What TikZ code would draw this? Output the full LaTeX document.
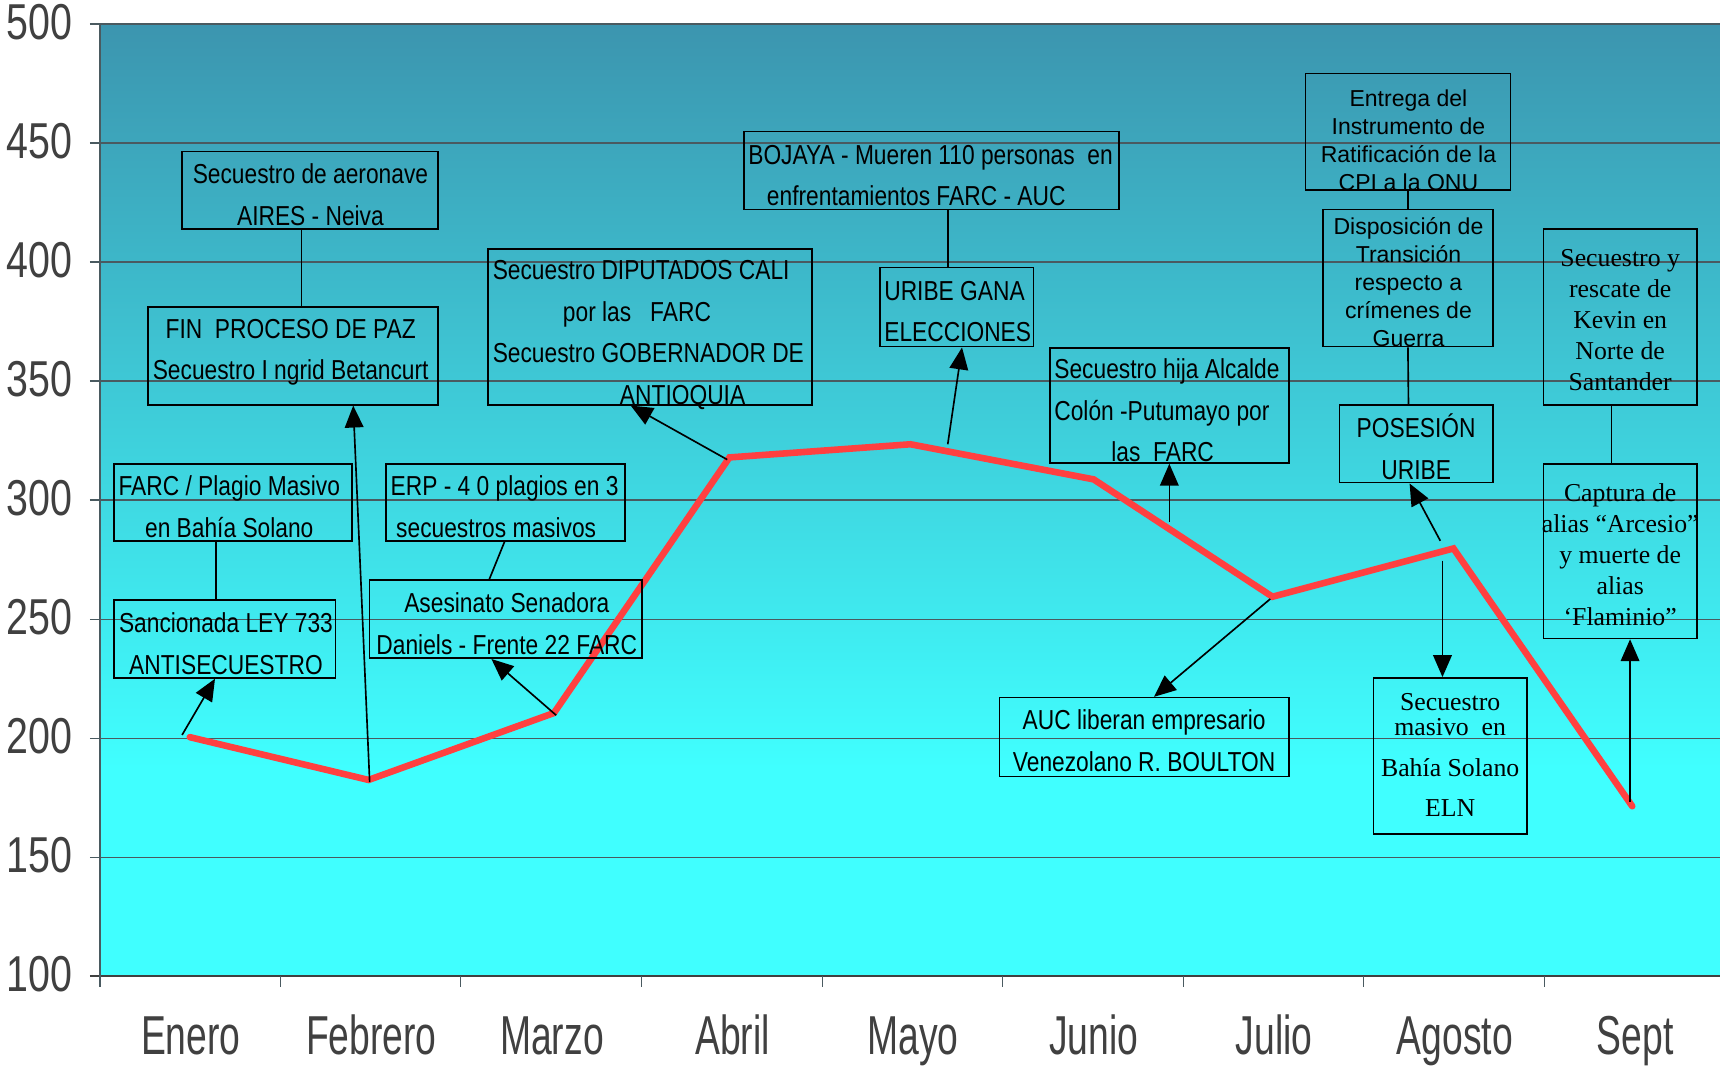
\documentclass[tikz,border=0pt]{standalone}
\usepackage{fontspec}
\setmainfont{Liberation Sans}
\newfontfamily\condf[FakeStretch=0.83]{Liberation Sans}
\newfontfamily\axisf[FakeStretch=0.78]{Liberation Sans}
\newfontfamily\monthf[FakeStretch=0.68]{Liberation Sans}
\newfontfamily\serf{Liberation Serif}
\usetikzlibrary{arrows.meta}
\definecolor{topc}{HTML}{3C95AF}
\definecolor{botc}{HTML}{40FFFF}
\definecolor{redl}{HTML}{FF4040}
\definecolor{axc}{HTML}{404040}
\definecolor{gridc}{HTML}{4A5A60}
\begin{document}
\begin{tikzpicture}[x=1pt,y=-1pt,
  box/.style={draw=black, line width=1.5pt, inner sep=0pt, fill=none},
  conn/.style={draw=black, line width=1.5pt},
  arr/.style={draw=black, line width=1.5pt, -{Triangle[length=20pt,width=17pt]}},
  tcc/.style={font=\condf\fontsize{25}{38}\selectfont, align=center, inner sep=0pt, text=black},
  tcl/.style={font=\condf\fontsize{25}{38}\selectfont, align=left, inner sep=0pt, anchor=west, text=black},
  tnorm/.style={font=\fontsize{21}{25.4}\selectfont, align=center, inner sep=0pt, text=black},
  tser/.style={font=\serf\fontsize{23.5}{23}\selectfont, align=center, inner sep=0pt, text=black},
  tser2/.style={font=\serf\fontsize{23.5}{28.3}\selectfont, align=center, inner sep=0pt, text=black},
  ylab/.style={font=\axisf\fontsize{46}{46}\selectfont, text=axc, anchor=east, inner sep=0pt},
  xlab/.style={font=\monthf\fontsize{50}{50}\selectfont, text=axc, inner sep=0pt, anchor=base},
  gridl/.style={draw=gridc, line width=1.3pt},
  redline/.style={draw=redl, line width=6pt, line join=miter, line cap=round}]
\useasboundingbox (0,0) rectangle (1568,974);
\fill[white] (0,0) rectangle (1568,974);
% plot area background
\shade[top color=topc, bottom color=botc] (91,22) rectangle (1568,700);
\fill[botc] (91,699.5) rectangle (1568,890);
% grid lines and left ticks
\foreach \v/\yy in {500/22,450/130.5,400/239,350/347.5,300/456,250/564.5,200/673,150/781.5}{
  \draw[gridl] (82,\yy) -- (1568,\yy);
  \node[ylab] at (66,\yy-2) {\v};
}
\draw[draw=axc, line width=2pt] (82,890) -- (1568,890);
\node[ylab] at (66,888) {100};
% y axis
\draw[draw=gridc, line width=1.3pt] (91,22) -- (91,900);
% bottom ticks
\foreach \i in {1,...,8}{
  \draw[draw=gridc, line width=1pt] (91+164.6*\i,890) -- (91+164.6*\i,900);
}
% month labels
\foreach \m [count=\i from 0] in {Enero,Febrero,Marzo,Abril,Mayo,Junio,Julio,Agosto,Sept}{
  \node[xlab] at (174+164.6*\i,961) {\m};
}
% data line
\coordinate (p1) at (173,672);
\coordinate (p2) at (336,711);
\coordinate (p3) at (505,650);
\coordinate (p4) at (665,417);
\coordinate (p5) at (830,405);
\coordinate (p6) at (997,437);
\coordinate (p7) at (1160,544);
\coordinate (p8) at (1325,500);
\coordinate (p9) at (1488,735);
\draw[redline] (p1) -- (p2) -- (p3) -- (p4) -- (p5) -- (p6) -- (p7) -- (p8) -- (p9);
% boxes
\node[box, minimum width=233pt, minimum height=71pt] (b1) at (282.5,173.5) {};
\node[box, minimum width=264pt, minimum height=89pt] (b2) at (267,324.5) {};
\node[box, minimum width=217pt, minimum height=70pt] (b3) at (212.5,458) {};
\node[box, minimum width=202pt, minimum height=71pt] (b4) at (205,582.5) {};
\node[box, minimum width=218pt, minimum height=70pt] (b5) at (461,458) {};
\node[box, minimum width=248pt, minimum height=71pt] (b6) at (461,564.5) {};
\node[box, minimum width=295pt, minimum height=142pt] (b7) at (592.5,298) {};
\node[box, minimum width=342pt, minimum height=71pt] (b8) at (849,155.5) {};
\node[box, minimum width=140pt, minimum height=72pt] (b9) at (872,280) {};
\node[box, minimum width=218pt, minimum height=105pt] (b10) at (1066,369.5) {};
\node[box, minimum width=264pt, minimum height=72pt] (b11) at (1043,672) {};
\node[box, minimum width=187pt, minimum height=106pt] (b12) at (1283.5,120) {};
\node[box, minimum width=155pt, minimum height=125pt] (b13) at (1283.5,253.5) {};
\node[box, minimum width=140pt, minimum height=71pt] (b14) at (1291,404.5) {};
\node[box, minimum width=140pt, minimum height=142pt] (b15) at (1322,689) {};
\node[box, minimum width=140pt, minimum height=160pt] (b16) at (1477,289) {};
\node[box, minimum width=140pt, minimum height=159pt] (b17) at (1477,502.5) {};
% texts
\node[tcc] at (283,177.5) {Secuestro de aeronave\\AIRES - Neiva};
\node[tcc] at (265,321) {FIN\ \ PROCESO DE PAZ\\Secuestro I ngrid Betancurt};
\node[tcc] at (209,462) {FARC / Plagio Masivo\\en Bahía Solano};
\node[tcc] at (206,586.5) {Sancionada LEY 733\\ANTISECUESTRO};
\node[tcl] at (356,462) {ERP - 4 0 plagios en 3\\\hspace*{5pt}secuestros masivos};
\node[tcc] at (462,568.5) {Asesinato Senadora\\Daniels - Frente 22 FARC};
\node[tcl] at (449,305.5) {Secuestro DIPUTADOS CALI\\\hspace*{64pt}por las\ \ \ FARC\\Secuestro GOBERNADOR DE\\\hspace*{116pt}ANTIOQUIA};
\node[tcl] at (682,160) {BOJAYA - Mueren 110 personas\ \ en\\\hspace*{17pt}enfrentamientos FARC - AUC};
\node[tcl] at (806,284) {URIBE GANA\\ELECCIONES};
\node[tcl] at (961,374) {Secuestro hija Alcalde\\Colón -Putumayo por\\\hspace*{52pt}las\ \ FARC};
\node[tcc] at (1043,675.5) {AUC liberan empresario\\Venezolano R. BOULTON};
\node[tnorm] at (1284,128) {Entrega del\\Instrumento de\\Ratificación de la\\CPI a la ONU};
\node[tnorm] at (1284,257) {Disposición de\\Transición\\respecto a\\crímenes de\\Guerra};
\node[tcc] at (1291,407) {POSESIÓN\\URIBE};
\node[tser] at (1322,688.5) {Secuestro\\masivo\ \ en\\[14pt]Bahía Solano\\[14pt]ELN};
\node[tser2] at (1477,292) {Secuestro y\\rescate de\\Kevin en\\Norte de\\Santander};
\node[tser2] at (1477,505.5) {Captura de\\alias “Arcesio”\\y muerte de\\alias\\‘Flaminio”};
% connectors between boxes
\draw[conn] ([xshift=-7.5pt]b1.south) -- ([xshift=8pt]b2.north);
\draw[conn] ([xshift=-15.5pt]b3.south) -- ([xshift=-8pt]b4.north);
\draw[conn] ([xshift=-1pt]b5.south) -- ([xshift=-15pt]b6.north);
\draw[conn] ([xshift=15pt]b8.south) -- ([xshift=-8pt]b9.north);
\draw[conn] (b12.south) -- (b13.north);
\draw[conn] (b13.south) -- ([xshift=-7pt]b14.north);
\draw[conn] ([xshift=-8pt]b16.south) -- ([xshift=-8pt]b17.north);
% arrows from the data line
\coordinate (t1) at (166,670);
\coordinate (t2) at (337,713);
\coordinate (t3) at (507,652);
\coordinate (t4) at (663,419);
\coordinate (t5) at (864,405);
\coordinate (t6) at (1066,476);
\coordinate (t7) at (1158,546);
\coordinate (t8) at (1313,493);
\coordinate (t9) at (1315,511);
\coordinate (t10) at (1486,731);
\draw[arr] (t1) -- ([xshift=-9pt]b4.south);
\draw[arr] (t2) -- ([xshift=55pt]b2.south);
\draw[arr] (t3) -- ([xshift=-13pt]b6.south);
\draw[arr] (t4) -- ([xshift=-17.5pt]b7.south);
\draw[arr] (t5) -- ([xshift=5pt]b9.south);
\draw[arr] (t6) -- (b10.south);
\draw[arr] (t7) -- ([xshift=9pt]b11.north);
\draw[arr] (t8) -- ([xshift=-6pt]b14.south);
\draw[arr] (t9) -- ([xshift=-7pt]b15.north);
\draw[arr] (t10) -- ([xshift=9pt]b17.south);
\end{tikzpicture}
\end{document}
